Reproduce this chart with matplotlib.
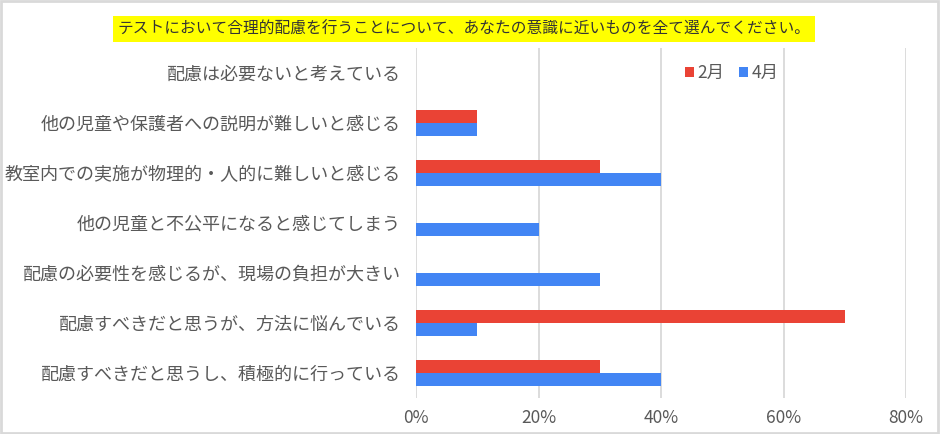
import numpy as np
import matplotlib.pyplot as plt
from matplotlib.patches import Rectangle
from matplotlib.ticker import PercentFormatter

plt.rcParams['font.family'] = ['Noto Sans CJK JP', 'DejaVu Sans']

title = "テストにおいて合理的配慮を行うことについて、あなたの意識に近いものを全て選んでください。"
categories = [
    "配慮は必要ないと考えている",
    "他の児童や保護者への説明が難しいと感じる",
    "教室内での実施が物理的・人的に難しいと感じる",
    "他の児童と不公平になると感じてしまう",
    "配慮の必要性を感じるが、現場の負担が大きい",
    "配慮すべきだと思うが、方法に悩んでいる",
    "配慮すべきだと思うし、積極的に行っている",
]
feb = [0.0, 0.10, 0.30, 0.0, 0.0, 0.70, 0.30]
apr = [0.0, 0.10, 0.40, 0.20, 0.30, 0.10, 0.40]
xticks = [0, 0.2, 0.4, 0.6, 0.8]

red = "#EA4335"
blue = "#4285F4"
txt = "#595959"

fig = plt.figure(figsize=(9.4, 4.34), dpi=100)
ax = fig.add_axes([416/940, 36/434, 490/940, 350/434])

y = np.arange(len(categories))
h = 0.26
ax.barh(y - h/2, feb, height=h, color=red, label="2月", zorder=3)
ax.barh(y + h/2, apr, height=h, color=blue, label="4月", zorder=3)

ax.set_ylim(-0.5, len(categories) - 0.5)
ax.invert_yaxis()
ax.set_xlim(0, 0.8)
ax.set_xticks(xticks)
ax.xaxis.set_major_formatter(PercentFormatter(1.0, decimals=0))
ax.set_yticks(y)
ax.set_yticklabels(categories, fontsize=13, color=txt)
ax.tick_params(axis='x', labelsize=12.5, colors=txt, length=0, pad=8)
ax.tick_params(axis='y', length=0, pad=11)
ax.grid(axis='x', color="#d9d9d9", lw=1.3, zorder=0)
for s in ax.spines.values():
    s.set_visible(False)

fig.legend(loc='center left', bbox_to_anchor=(676/940, 1 - 73/434), ncol=2,
           frameon=False, fontsize=12.5, handlelength=0.55, handleheight=0.55,
           handletextpad=0.2, columnspacing=0.8, labelcolor=txt, borderpad=0)

fig.text(464/940, 1 - 29/434, title, ha='center', va='center', fontsize=11.3, color="#333333",
         bbox=dict(boxstyle='square,pad=0.3', fc='#FFFF00', ec='none'))

fig.patches.append(Rectangle((0.001, 0.002), 0.997, 0.995, transform=fig.transFigure,
                             fill=False, ec="#d9d9d9", lw=2))

fig.savefig("out.png", dpi=100)
